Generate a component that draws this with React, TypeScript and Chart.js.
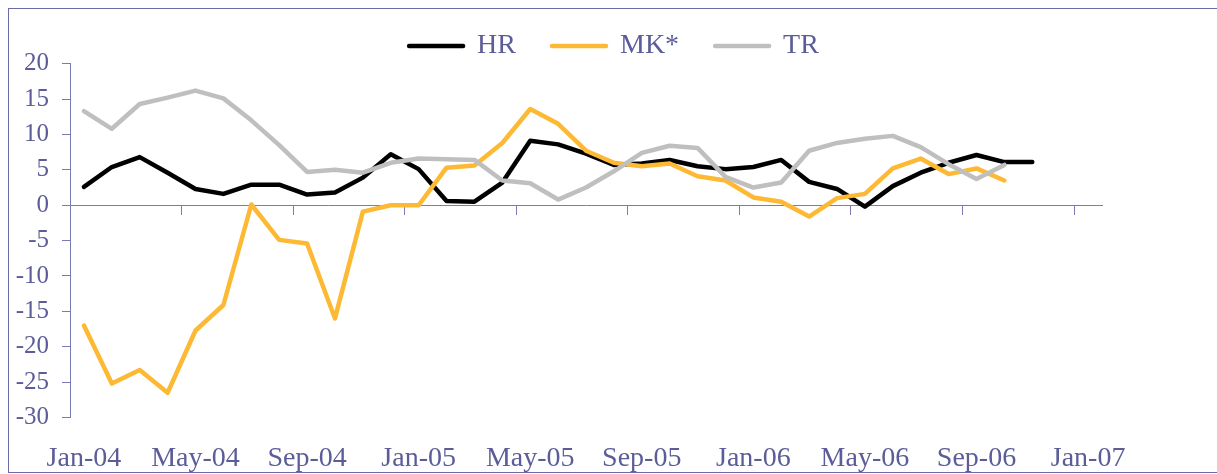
import React, { useEffect, useRef } from 'react';
import { Chart, registerables } from 'chart.js';

Chart.register(...registerables);

const months = [
  'Jan-04', 'Feb-04', 'Mar-04', 'Apr-04', 'May-04', 'Jun-04', 'Jul-04', 'Aug-04', 'Sep-04', 'Oct-04', 'Nov-04', 'Dec-04',
  'Jan-05', 'Feb-05', 'Mar-05', 'Apr-05', 'May-05', 'Jun-05', 'Jul-05', 'Aug-05', 'Sep-05', 'Oct-05', 'Nov-05', 'Dec-05',
  'Jan-06', 'Feb-06', 'Mar-06', 'Apr-06', 'May-06', 'Jun-06', 'Jul-06', 'Aug-06', 'Sep-06', 'Oct-06', 'Nov-06', 'Dec-06',
  'Jan-07',
];

const hrValues = [
  2.6, 5.4, 6.8, 4.6, 2.3, 1.6, 2.9, 2.9, 1.5, 1.8, 3.9, 7.2,
  5.1, 0.6, 0.5, 3.2, 9.1, 8.6, 7.3, 5.7, 5.9, 6.4, 5.5, 5.1,
  5.4, 6.4, 3.3, 2.3, -0.2, 2.7, 4.6, 6.0, 7.1, 6.1, 6.1,
];

const mkValues = [
  -17.0, -25.2, -23.3, -26.5, -17.7, -14.1, 0.1, -4.9, -5.4, -16.0, -0.9, 0.0,
  0.0, 5.3, 5.6, 8.8, 13.6, 11.5, 7.7, 6.0, 5.5, 5.9, 4.1, 3.5,
  1.1, 0.5, -1.6, 1.0, 1.6, 5.2, 6.6, 4.4, 5.2, 3.5,
];

const trValues = [
  13.3, 10.8, 14.3, 15.2, 16.2, 15.1, 12.0, 8.5, 4.7, 5.0, 4.6, 6.0,
  6.6, 6.5, 6.4, 3.5, 3.1, 0.8, 2.5, 4.8, 7.4, 8.4, 8.1, 4.0,
  2.5, 3.2, 7.7, 8.8, 9.4, 9.8, 8.2, 5.8, 3.7, 5.7,
];

const seriesLabels = ['HR', 'MK*', 'TR'];
const yMin = -30;
const yMax = 20;
const yStep = 5;
const labelEvery = 4;

const FONT = "'Liberation Serif', 'Times New Roman', serif";
const TEXT = '#5c5c99';
const AXIS = '#7a7ab4';
const FRAME = '#6a6aa8';
const COLORS = ['#000000', '#FDB933', '#BFBFBF'];
const LINE_W = 4.5;

export default function App() {
  const ref = useRef<HTMLCanvasElement>(null);

  useEffect(() => {
    if (!ref.current) return;
    const values = [hrValues, mkValues, trValues];
    const chart = new Chart(ref.current, {
      type: 'line',
      data: {
        labels: months,
        datasets: values.map((d, i) => ({
          label: seriesLabels[i],
          data: d,
          borderColor: COLORS[i],
          backgroundColor: COLORS[i],
          pointBorderColor: COLORS[i],
          pointBorderWidth: LINE_W,
          borderWidth: LINE_W,
          order: 3 - i,
        })),
      },
      options: {
        animation: false,
        responsive: false,
        events: [],
        layout: { padding: { top: -13, left: 0, right: 0, bottom: 0 } },
        elements: {
          line: { tension: 0, borderCapStyle: 'round', borderJoinStyle: 'round', fill: false },
          point: { radius: 0, hoverRadius: 0, pointStyle: 'line' },
        },
        plugins: {
          legend: {
            position: 'top',
            maxHeight: 67.7,
            labels: {
              usePointStyle: true,
              pointStyle: 'line',
              pointStyleWidth: 54,
              padding: 36,
              color: TEXT,
              font: { family: FONT, size: 28 },
              sort: (a: any, b: any) => a.datasetIndex - b.datasetIndex,
              generateLabels: (c: any) =>
                (Chart.defaults.plugins.legend.labels as any).generateLabels(c).map((l: any) => ({
                  ...l,
                  lineCap: 'round',
                  lineWidth: LINE_W,
                  strokeStyle: COLORS[l.datasetIndex],
                })),
            },
          },
          tooltip: { enabled: false },
        },
        scales: {
          x: {
            type: 'category',
            position: { y: 0 } as any,
            offset: true,
            grid: {
              offset: true,
              drawOnChartArea: false,
              drawTicks: true,
              tickLength: 9,
              lineWidth: 1,
              color: (c: any) => (c.index % labelEvery === 0 ? AXIS : 'rgba(0,0,0,0)'),
            },
            border: { display: true, color: AXIS, width: 1 },
            ticks: { display: false, autoSkip: false },
          },
          x2: {
            type: 'category',
            position: 'bottom',
            offset: true,
            grid: { display: false, drawTicks: false },
            border: { display: false },
            ticks: {
              autoSkip: false,
              maxRotation: 0,
              minRotation: 0,
              padding: 24.5,
              color: TEXT,
              font: { family: FONT, size: 28 },
              callback: (_v: any, i: number) => (i % labelEvery === 0 ? months[i] : ''),
            },
            afterFit: (s: any) => {
              s.height = 54.5;
            },
          },
          y: {
            min: yMin,
            max: yMax,
            position: 'left',
            ticks: {
              stepSize: yStep,
              color: TEXT,
              padding: 13,
              font: { family: FONT, size: 25 },
            },
            grid: { drawOnChartArea: false, drawTicks: true, tickLength: 8, color: AXIS },
            border: { display: true, color: AXIS, width: 1 },
            afterFit: (s: any) => {
              s.width = 61;
            },
          },
          yR: {
            position: 'right',
            grid: { display: false, drawTicks: false },
            ticks: { display: false },
            border: { display: false },
            afterFit: (s: any) => {
              s.width = 117;
            },
          },
        },
      } as any,
    });
    return () => chart.destroy();
  }, []);

  return (
    <div
      style={{
        position: 'fixed',
        left: 8,
        top: 8,
        width: 1210,
        height: 463,
        borderLeft: `1px solid ${FRAME}`,
        borderTop: `1px solid ${FRAME}`,
        borderBottom: `1px solid ${FRAME}`,
        background: '#ffffff',
      }}
    >
      <canvas ref={ref} width={1210} height={463} style={{ display: 'block' }} />
    </div>
  );
}
